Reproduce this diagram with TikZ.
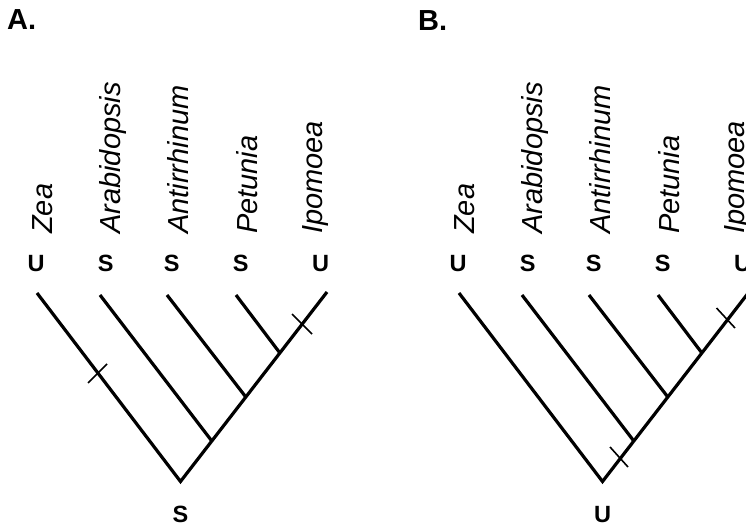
\documentclass[tikz,border=0pt]{standalone}
\usepackage{fontspec}
\setmainfont{Liberation Sans}
\setsansfont{Liberation Sans}
\begin{document}
\begin{tikzpicture}[x=1pt,y=-1pt,
  branch/.style={line width=3.2pt,line join=miter,line cap=butt},
  tick/.style={line width=1.6pt},
  taxon/.style={rotate=90,anchor=base west,inner sep=0pt,font=\fontsize{29}{33}\selectfont\itshape},
  state/.style={anchor=base,inner sep=0pt,font=\fontsize{23.5}{26}\selectfont\bfseries},
  panel/.style={anchor=base west,inner sep=0pt,font=\fontsize{29}{33}\selectfont\bfseries}]
\useasboundingbox (0,0) rectangle (746,526);
\clip (0,0) rectangle (746,526);
\fill[white] (0,0) rectangle (746,526);
% ---------- Panel A ----------
\node[panel] (pA) at (7,30) {A.};
\foreach \n/\x/\t in {zA/52/Zea,aA/120/Arabidopsis,nA/188/Antirrhinum,pA2/257/Petunia,iA/322/Ipomoea}
  \node[taxon] (t\n) at (\x,234) {\t};
\node[state] (sz) at (36,272) {U};
\node[state] (sa) at (105.7,272) {S};
\node[state] (sn) at (171.7,272) {S};
\node[state] (sp) at (240.7,272) {S};
\node[state] (si) at (320.7,272) {U};
\node[state] (sr) at (180.5,522) {S};
\coordinate (Lz) at (37,293);
\coordinate (La) at (100,295);
\coordinate (Ln) at (167,295);
\coordinate (Lp) at (236,295);
\coordinate (Li) at (327,292);
\coordinate (R) at (180.5,481.5);
\coordinate (J1) at (211.8,441);
\coordinate (J2) at (245.8,397);
\coordinate (J3) at (279.9,353);
\draw[branch] (Lz) -- (R) -- (Li);
\draw[branch] (La) -- (J1);
\draw[branch] (Ln) -- (J2);
\draw[branch] (Lp) -- (J3);
\coordinate (ta1) at (88,383); \coordinate (ta2) at (107,364);
\coordinate (ta3) at (292,314); \coordinate (ta4) at (312,334);
\draw[tick] (ta1) -- (ta2);
\draw[tick] (ta3) -- (ta4);
% ---------- Panel B ----------
\node[panel] (pB) at (418,31) {B.};
\foreach \n/\x/\t in {zB/474/Zea,aB/542/Arabidopsis,nB/610/Antirrhinum,pB2/679/Petunia,iB/744/Ipomoea}
  \node[taxon] (t\n) at (\x,234) {\t};
\node[state] (bz) at (458,272) {U};
\node[state] (ba) at (527.7,272) {S};
\node[state] (bn) at (593.7,272) {S};
\node[state] (bp) at (662.7,272) {S};
\node[state] (bi) at (742.7,272) {U};
\node[state] (br) at (602.5,522) {U};
\coordinate (Mz) at (459,293);
\coordinate (Ma) at (522,295);
\coordinate (Mn) at (589,295);
\coordinate (Mp) at (658,295);
\coordinate (Mi) at (749,292);
\coordinate (Q) at (602.5,481.5);
\coordinate (K1) at (633.8,441);
\coordinate (K2) at (667.8,397);
\coordinate (K3) at (701.9,353);
\draw[branch] (Mz) -- (Q) -- (Mi);
\draw[branch] (Ma) -- (K1);
\draw[branch] (Mn) -- (K2);
\draw[branch] (Mp) -- (K3);
\coordinate (tb1) at (610,447); \coordinate (tb2) at (628,467);
\coordinate (tb3) at (716.5,308); \coordinate (tb4) at (735,328);
\draw[tick] (tb1) -- (tb2);
\draw[tick] (tb3) -- (tb4);
\end{tikzpicture}
\end{document}
